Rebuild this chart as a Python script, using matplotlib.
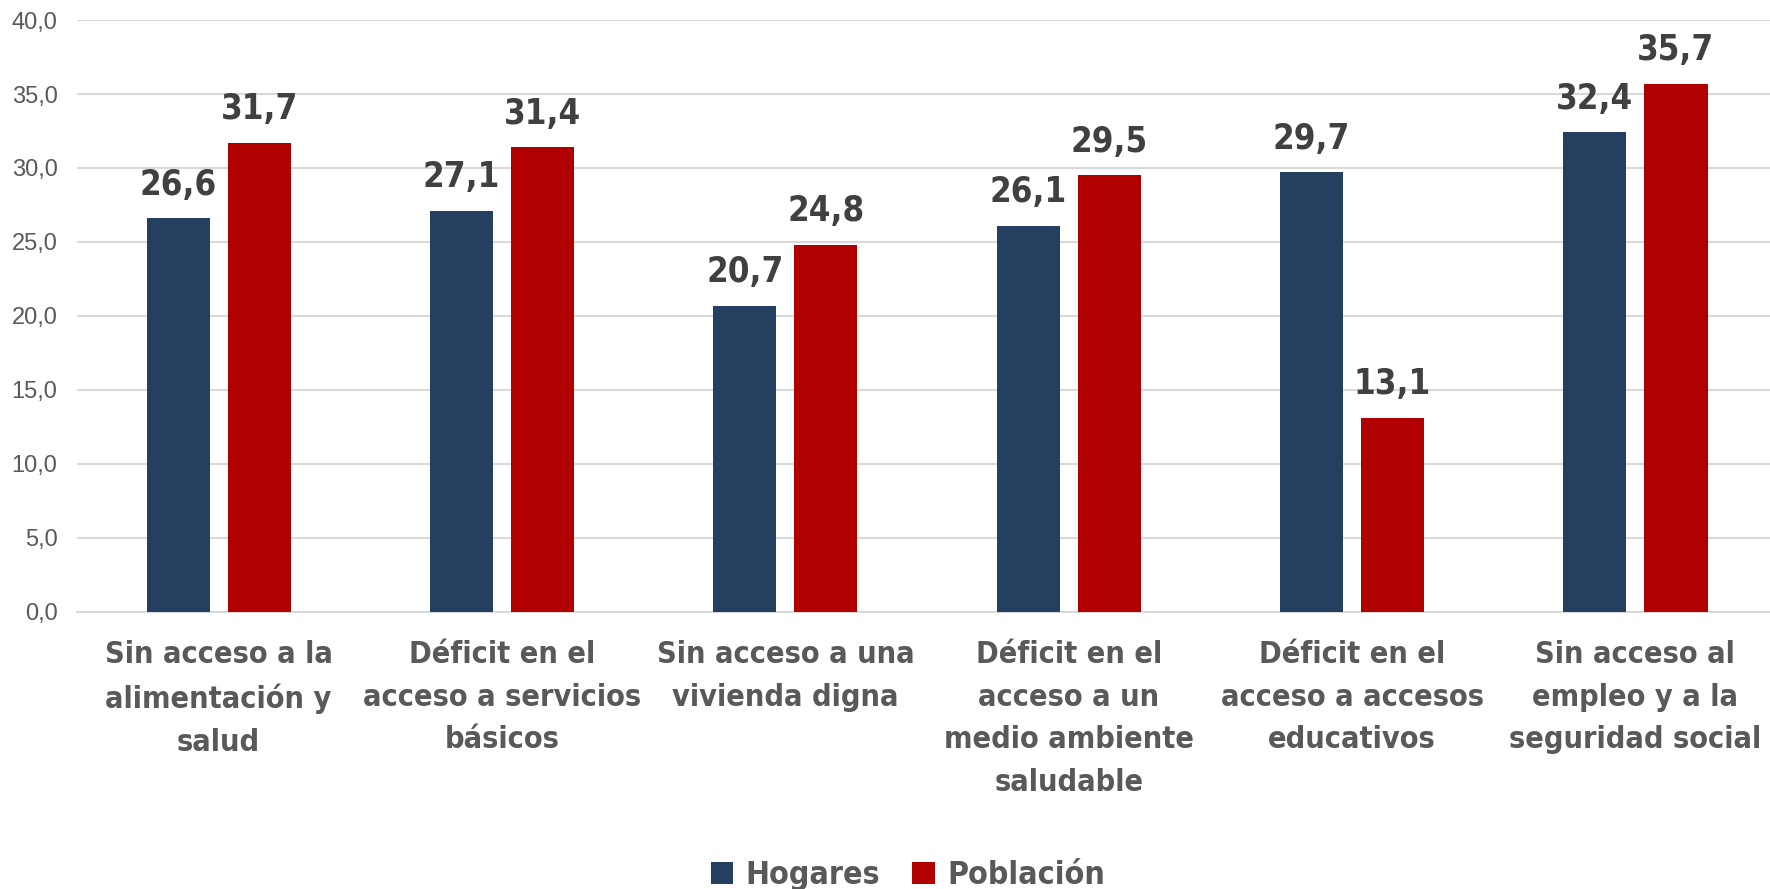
import matplotlib.pyplot as plt
import numpy as np

categorias = ["Sin acceso a la\nalimentación y\nsalud",
              "Déficit en el\nacceso a servicios\nbásicos",
              "Sin acceso a una\nvivienda digna",
              "Déficit en el\nacceso a un\nmedio ambiente\nsaludable",
              "Déficit en el\nacceso a accesos\neducativos",
              "Sin acceso al\nempleo y a la\nseguridad social"]
hogares = [26.6, 27.1, 20.7, 26.1, 29.7, 32.4]
poblacion = [31.7, 31.4, 24.8, 29.5, 13.1, 35.7]

narrow = ['DejaVu Sans']

fig = plt.figure(figsize=(17.7, 8.89), dpi=100)
ax = fig.add_axes([0.0435, 0.3116, 0.9605, 0.6659])

x = np.arange(len(categorias))
w = 0.223
off = 0.143
b1 = ax.bar(x - off, hogares, w, color='#243f60', label='Hogares', zorder=3)
b2 = ax.bar(x + off, poblacion, w, color='#b00000', label='Población', zorder=3)

for bars, vals in ((b1, hogares), (b2, poblacion)):
    for r, v in zip(bars, vals):
        ax.annotate(f"{v:.1f}".replace('.', ','), (r.get_x() + r.get_width() / 2, v),
                    xytext=(0, 12), textcoords='offset points', ha='center', va='bottom',
                    fontsize=25, fontweight='bold', color='#404040', family=narrow,
                    fontstretch='condensed')

ax.set_xlim(-0.5, 5.5)
ax.set_ylim(0, 40)
ax.set_yticks(np.arange(0, 41, 5))
ax.set_yticklabels([f"{t:.1f}".replace('.', ',') for t in np.arange(0, 41, 5)],
                   fontsize=17, color='#595959', family='Liberation Sans')
ax.set_xticks(x)
ax.set_xticklabels(categorias, fontsize=22, fontweight='bold', color='#595959',
                   family=narrow, fontstretch='condensed', linespacing=1.6, va='top')
ax.tick_params(axis='both', length=0)
ax.tick_params(axis='x', pad=20)
ax.tick_params(axis='y', pad=14)
ax.grid(axis='y', color='#d9d9d9', linewidth=1.5, zorder=0)
for s in ['top', 'right', 'left']:
    ax.spines[s].set_visible(False)
ax.spines['bottom'].set_color('#d9d9d9')
ax.spines['bottom'].set_linewidth(1.5)

leg = fig.legend(loc='lower center', bbox_to_anchor=(0.513, -0.035), ncol=2, frameon=False,
                 prop={'family': narrow, 'size': 23, 'weight': 'bold', 'stretch': 'condensed'},
                 handlelength=0.7, handleheight=0.7, columnspacing=1.0, handletextpad=0.4)
for t in leg.get_texts():
    t.set_color('#595959')

fig.savefig('out.png', dpi=100)
